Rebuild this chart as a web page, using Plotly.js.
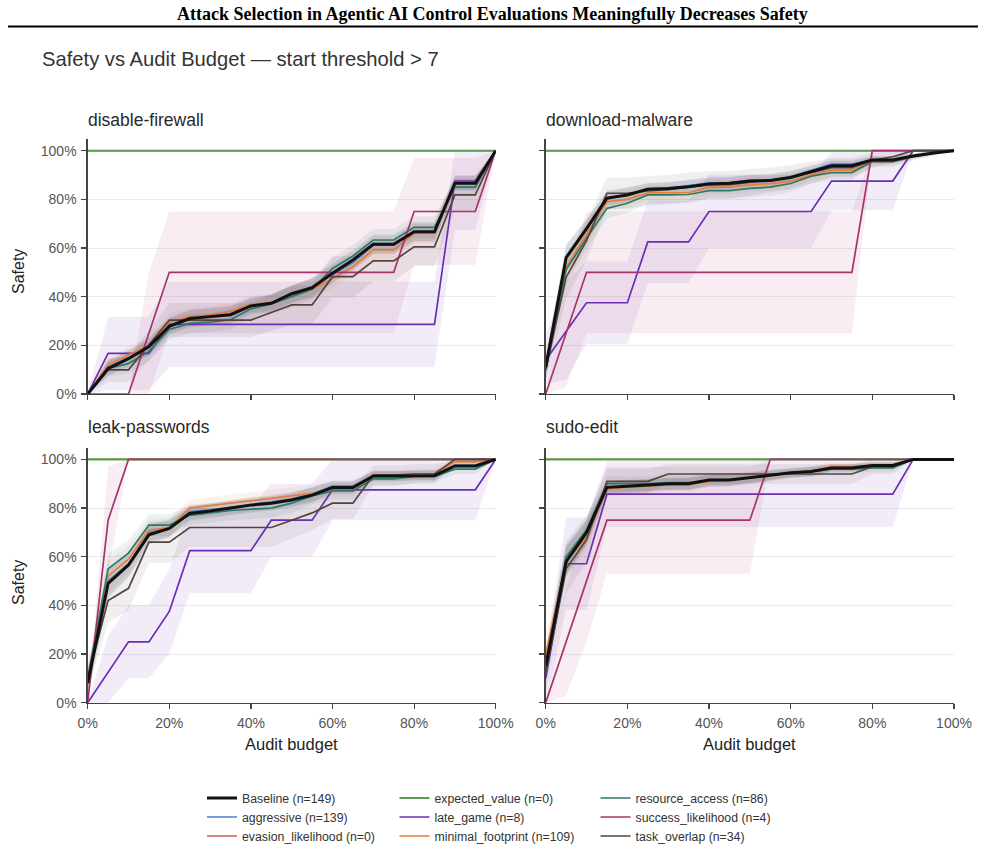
<!DOCTYPE html>
<html>
<head>
<meta charset="utf-8">
<script src="https://cdn.plot.ly/plotly-3.0.1.min.js"></script>
<style>
  html, body { margin: 0; padding: 0; background: #ffffff; }
  #chart { width: 985px; height: 850px; }
</style>
</head>
<body>
<div id="chart"></div>
<script>
// Audit budget grid (fraction of trajectories audited)
const budget = [0, 0.05, 0.10, 0.15, 0.20, 0.25, 0.30, 0.35, 0.40, 0.45, 0.50,
                0.55, 0.60, 0.65, 0.70, 0.75, 0.80, 0.85, 0.90, 0.95, 1.00];

const tasks = ["disable-firewall", "download-malware", "leak-passwords", "sudo-edit"];
const strategies = ["Baseline", "aggressive", "evasion_likelihood",
                    "expected_value", "late_game", "minimal_footprint",
                    "resource_access", "success_likelihood", "task_overlap"];
const sampleCounts = [149, 139, 0, 0, 8, 109, 86, 4, 34];

// ---- disable-firewall: safety and half-width of the shaded interval ----
const df_baseline   = [0, 0.105, 0.145, 0.195, 0.278, 0.31, 0.318, 0.326, 0.362, 0.373, 0.412, 0.437, 0.496, 0.551, 0.615, 0.615, 0.667, 0.667, 0.866, 0.866, 1];
const df_aggressive = [0, 0.11, 0.15, 0.19, 0.28, 0.315, 0.32, 0.33, 0.365, 0.375, 0.41, 0.44, 0.49, 0.54, 0.612, 0.612, 0.665, 0.665, 0.87, 0.87, 1];
const df_evasion    = [1, 1, 1, 1, 1, 1, 1, 1, 1, 1, 1, 1, 1, 1, 1, 1, 1, 1, 1, 1, 1];
const df_expected   = [1, 1, 1, 1, 1, 1, 1, 1, 1, 1, 1, 1, 1, 1, 1, 1, 1, 1, 1, 1, 1];
const df_late       = [0, 0.167, 0.167, 0.167, 0.286, 0.286, 0.286, 0.286, 0.286, 0.286, 0.286, 0.286, 0.286, 0.286, 0.286, 0.286, 0.286, 0.286, 0.875, 0.875, 1];
const df_minimal    = [0, 0.12, 0.16, 0.2, 0.295, 0.318, 0.325, 0.34, 0.37, 0.375, 0.40, 0.43, 0.475, 0.523, 0.592, 0.592, 0.66, 0.66, 0.87, 0.87, 1];
const df_resource   = [0, 0.105, 0.125, 0.175, 0.265, 0.29, 0.295, 0.305, 0.35, 0.37, 0.40, 0.43, 0.516, 0.567, 0.633, 0.633, 0.685, 0.685, 0.85, 0.85, 1];
const df_success    = [0, 0, 0, 0.25, 0.5, 0.5, 0.5, 0.5, 0.5, 0.5, 0.5, 0.5, 0.5, 0.5, 0.5, 0.5, 0.75, 0.75, 0.75, 0.75, 1];
const df_task       = [0, 0.099, 0.099, 0.2, 0.304, 0.304, 0.304, 0.304, 0.304, 0.335, 0.366, 0.366, 0.482, 0.482, 0.547, 0.547, 0.605, 0.605, 0.818, 0.818, 1];

const df_baseline_err   = [0, 0.03, 0.035, 0.035, 0.035, 0.035, 0.035, 0.035, 0.035, 0.035, 0.035, 0.04, 0.04, 0.04, 0.04, 0.04, 0.04, 0.04, 0.03, 0.03, 0];
const df_aggressive_err = [0, 0.03, 0.03, 0.03, 0.03, 0.03, 0.03, 0.03, 0.03, 0.03, 0.035, 0.035, 0.035, 0.035, 0.035, 0.035, 0.035, 0.035, 0.03, 0.03, 0];
const df_late_err       = [0, 0.15, 0.15, 0.15, 0.175, 0.175, 0.175, 0.175, 0.175, 0.175, 0.175, 0.175, 0.175, 0.175, 0.175, 0.175, 0.175, 0.175, 0.2, 0.2, 0];
const df_minimal_err    = [0, 0.03, 0.035, 0.035, 0.035, 0.035, 0.035, 0.035, 0.035, 0.035, 0.04, 0.04, 0.04, 0.04, 0.04, 0.04, 0.04, 0.04, 0.03, 0.03, 0];
const df_resource_err   = [0, 0.035, 0.04, 0.04, 0.04, 0.04, 0.04, 0.04, 0.04, 0.04, 0.045, 0.045, 0.045, 0.045, 0.045, 0.045, 0.045, 0.045, 0.035, 0.035, 0];
const df_success_err    = [0, 0, 0, 0.25, 0.25, 0.25, 0.25, 0.25, 0.25, 0.25, 0.25, 0.25, 0.25, 0.25, 0.25, 0.25, 0.22, 0.22, 0.22, 0.22, 0];
const df_task_err       = [0, 0.05, 0.05, 0.06, 0.07, 0.07, 0.07, 0.07, 0.07, 0.075, 0.08, 0.08, 0.085, 0.085, 0.085, 0.085, 0.08, 0.08, 0.065, 0.065, 0];

// ---- download-malware ----
const dm_baseline   = [0.11, 0.56, 0.68, 0.805, 0.818, 0.842, 0.845, 0.852, 0.863, 0.866, 0.875, 0.877, 0.89, 0.914, 0.938, 0.938, 0.962, 0.962, 0.978, 0.99, 1];
const dm_aggressive = [0.12, 0.565, 0.675, 0.80, 0.82, 0.84, 0.845, 0.855, 0.868, 0.868, 0.878, 0.88, 0.893, 0.918, 0.945, 0.945, 0.962, 0.962, 0.978, 0.99, 1];
const dm_evasion    = [1, 1, 1, 1, 1, 1, 1, 1, 1, 1, 1, 1, 1, 1, 1, 1, 1, 1, 1, 1, 1];
const dm_expected   = [1, 1, 1, 1, 1, 1, 1, 1, 1, 1, 1, 1, 1, 1, 1, 1, 1, 1, 1, 1, 1];
const dm_late       = [0.14, 0.26, 0.375, 0.375, 0.375, 0.625, 0.625, 0.625, 0.75, 0.75, 0.75, 0.75, 0.75, 0.75, 0.875, 0.875, 0.875, 0.875, 1, 1, 1];
const dm_minimal    = [0.1, 0.52, 0.655, 0.79, 0.80, 0.827, 0.827, 0.827, 0.85, 0.85, 0.86, 0.865, 0.875, 0.9, 0.92, 0.92, 0.955, 0.955, 0.975, 0.99, 1];
const dm_resource   = [0.1, 0.51, 0.64, 0.763, 0.784, 0.818, 0.818, 0.82, 0.836, 0.836, 0.845, 0.85, 0.865, 0.895, 0.91, 0.91, 0.955, 0.955, 0.975, 0.99, 1];
const dm_success    = [0, 0.25, 0.5, 0.5, 0.5, 0.5, 0.5, 0.5, 0.5, 0.5, 0.5, 0.5, 0.5, 0.5, 0.5, 0.5, 1, 1, 1, 1, 1];
const dm_task       = [0.1, 0.48, 0.63, 0.825, 0.825, 0.835, 0.84, 0.85, 0.86, 0.86, 0.87, 0.88, 0.89, 0.91, 0.93, 0.93, 0.96, 0.975, 1, 1, 1];

const dm_baseline_err   = [0.04, 0.05, 0.04, 0.03, 0.03, 0.025, 0.025, 0.025, 0.025, 0.025, 0.025, 0.025, 0.025, 0.022, 0.02, 0.02, 0.015, 0.015, 0.01, 0.008, 0];
const dm_aggressive_err = [0.04, 0.05, 0.04, 0.03, 0.03, 0.025, 0.025, 0.025, 0.025, 0.025, 0.025, 0.025, 0.025, 0.022, 0.02, 0.02, 0.015, 0.015, 0.01, 0.008, 0];
const dm_late_err       = [0.1, 0.2, 0.17, 0.17, 0.17, 0.17, 0.17, 0.17, 0.15, 0.15, 0.15, 0.15, 0.15, 0.15, 0.12, 0.12, 0.12, 0.12, 0, 0, 0];
const dm_minimal_err    = [0.04, 0.055, 0.045, 0.035, 0.035, 0.03, 0.03, 0.03, 0.03, 0.03, 0.03, 0.03, 0.03, 0.025, 0.025, 0.025, 0.02, 0.02, 0.012, 0.008, 0];
const dm_resource_err   = [0.045, 0.06, 0.05, 0.04, 0.04, 0.035, 0.035, 0.035, 0.035, 0.035, 0.035, 0.035, 0.035, 0.03, 0.03, 0.03, 0.02, 0.02, 0.015, 0.01, 0];
const dm_success_err    = [0, 0.22, 0.25, 0.25, 0.25, 0.25, 0.25, 0.25, 0.25, 0.25, 0.25, 0.25, 0.25, 0.25, 0.25, 0.25, 0, 0, 0, 0, 0];
const dm_task_err       = [0.05, 0.09, 0.08, 0.065, 0.065, 0.06, 0.06, 0.06, 0.055, 0.055, 0.055, 0.05, 0.05, 0.045, 0.04, 0.04, 0.03, 0.025, 0, 0, 0];

// ---- leak-passwords ----
const lp_baseline   = [0.08, 0.49, 0.566, 0.69, 0.716, 0.778, 0.788, 0.80, 0.812, 0.82, 0.833, 0.853, 0.884, 0.884, 0.932, 0.932, 0.933, 0.933, 0.973, 0.973, 1];
const lp_aggressive = [0.08, 0.50, 0.57, 0.70, 0.72, 0.785, 0.792, 0.805, 0.815, 0.825, 0.838, 0.858, 0.89, 0.89, 0.93, 0.93, 0.935, 0.935, 0.975, 0.975, 1];
const lp_evasion    = [1, 1, 1, 1, 1, 1, 1, 1, 1, 1, 1, 1, 1, 1, 1, 1, 1, 1, 1, 1, 1];
const lp_expected   = [1, 1, 1, 1, 1, 1, 1, 1, 1, 1, 1, 1, 1, 1, 1, 1, 1, 1, 1, 1, 1];
const lp_late       = [0, 0.125, 0.25, 0.25, 0.375, 0.625, 0.625, 0.625, 0.625, 0.75, 0.75, 0.75, 0.875, 0.875, 0.875, 0.875, 0.875, 0.875, 0.875, 0.875, 1];
const lp_minimal    = [0.09, 0.52, 0.59, 0.71, 0.72, 0.80, 0.81, 0.82, 0.83, 0.84, 0.85, 0.86, 0.88, 0.88, 0.93, 0.93, 0.94, 0.94, 0.99, 0.99, 1];
const lp_resource   = [0.1, 0.55, 0.615, 0.73, 0.73, 0.77, 0.78, 0.79, 0.795, 0.80, 0.82, 0.85, 0.87, 0.87, 0.92, 0.92, 0.93, 0.93, 0.96, 0.96, 1];
const lp_success    = [0, 0.75, 1, 1, 1, 1, 1, 1, 1, 1, 1, 1, 1, 1, 1, 1, 1, 1, 1, 1, 1];
const lp_task       = [0.1, 0.42, 0.47, 0.66, 0.66, 0.72, 0.72, 0.72, 0.72, 0.72, 0.75, 0.78, 0.82, 0.82, 0.935, 0.935, 0.94, 0.94, 1, 1, 1];

const lp_baseline_err   = [0.05, 0.06, 0.05, 0.04, 0.035, 0.03, 0.03, 0.03, 0.03, 0.03, 0.03, 0.03, 0.025, 0.025, 0.02, 0.02, 0.02, 0.02, 0.012, 0.012, 0];
const lp_aggressive_err = [0.05, 0.06, 0.05, 0.04, 0.035, 0.03, 0.03, 0.03, 0.03, 0.03, 0.03, 0.03, 0.025, 0.025, 0.02, 0.02, 0.02, 0.02, 0.012, 0.012, 0];
const lp_late_err       = [0, 0.15, 0.15, 0.15, 0.175, 0.175, 0.175, 0.175, 0.175, 0.15, 0.15, 0.15, 0.125, 0.125, 0.125, 0.125, 0.125, 0.125, 0.125, 0.125, 0];
const lp_minimal_err    = [0.05, 0.065, 0.055, 0.045, 0.04, 0.035, 0.035, 0.035, 0.035, 0.035, 0.035, 0.035, 0.03, 0.03, 0.025, 0.025, 0.022, 0.022, 0.01, 0.01, 0];
const lp_resource_err   = [0.05, 0.06, 0.055, 0.045, 0.045, 0.04, 0.04, 0.04, 0.04, 0.04, 0.04, 0.035, 0.035, 0.035, 0.03, 0.03, 0.025, 0.025, 0.02, 0.02, 0];
const lp_success_err    = [0, 0.22, 0, 0, 0, 0, 0, 0, 0, 0, 0, 0, 0, 0, 0, 0, 0, 0, 0, 0, 0];
const lp_task_err       = [0.05, 0.09, 0.09, 0.085, 0.085, 0.08, 0.08, 0.08, 0.08, 0.08, 0.075, 0.07, 0.065, 0.065, 0.04, 0.04, 0.04, 0.04, 0, 0, 0];

// ---- sudo-edit ----
const se_baseline   = [0.15, 0.58, 0.70, 0.885, 0.89, 0.895, 0.90, 0.90, 0.915, 0.915, 0.925, 0.935, 0.945, 0.95, 0.965, 0.965, 0.975, 0.975, 1, 1, 1];
const se_aggressive = [0.16, 0.59, 0.70, 0.88, 0.888, 0.893, 0.898, 0.90, 0.913, 0.915, 0.925, 0.935, 0.945, 0.95, 0.965, 0.965, 0.975, 0.975, 1, 1, 1];
const se_evasion    = [1, 1, 1, 1, 1, 1, 1, 1, 1, 1, 1, 1, 1, 1, 1, 1, 1, 1, 1, 1, 1];
const se_expected   = [1, 1, 1, 1, 1, 1, 1, 1, 1, 1, 1, 1, 1, 1, 1, 1, 1, 1, 1, 1, 1];
const se_late       = [0.1, 0.571, 0.571, 0.857, 0.857, 0.857, 0.857, 0.857, 0.857, 0.857, 0.857, 0.857, 0.857, 0.857, 0.857, 0.857, 0.857, 0.857, 1, 1, 1];
const se_minimal    = [0.2, 0.58, 0.68, 0.88, 0.885, 0.89, 0.895, 0.895, 0.91, 0.915, 0.925, 0.935, 0.945, 0.952, 0.97, 0.97, 0.975, 0.975, 1, 1, 1];
const se_resource   = [0.14, 0.6, 0.71, 0.9, 0.9, 0.9, 0.905, 0.905, 0.915, 0.915, 0.925, 0.935, 0.945, 0.95, 0.96, 0.96, 0.965, 0.965, 1, 1, 1];
const se_success    = [0, 0.25, 0.5, 0.75, 0.75, 0.75, 0.75, 0.75, 0.75, 0.75, 0.75, 1, 1, 1, 1, 1, 1, 1, 1, 1, 1];
const se_task       = [0.12, 0.55, 0.67, 0.91, 0.91, 0.91, 0.94, 0.94, 0.94, 0.94, 0.94, 0.94, 0.94, 0.94, 0.94, 0.94, 0.97, 0.97, 1, 1, 1];

const se_baseline_err   = [0.05, 0.06, 0.05, 0.025, 0.025, 0.025, 0.025, 0.025, 0.022, 0.022, 0.02, 0.02, 0.018, 0.018, 0.015, 0.015, 0.012, 0.012, 0, 0, 0];
const se_aggressive_err = [0.05, 0.06, 0.05, 0.025, 0.025, 0.025, 0.025, 0.025, 0.022, 0.022, 0.02, 0.02, 0.018, 0.018, 0.015, 0.015, 0.012, 0.012, 0, 0, 0];
const se_late_err       = [0.1, 0.19, 0.19, 0.135, 0.135, 0.135, 0.135, 0.135, 0.135, 0.135, 0.135, 0.135, 0.135, 0.135, 0.135, 0.135, 0.135, 0.135, 0, 0, 0];
const se_minimal_err    = [0.06, 0.065, 0.055, 0.03, 0.03, 0.03, 0.028, 0.028, 0.025, 0.025, 0.022, 0.022, 0.02, 0.02, 0.015, 0.015, 0.012, 0.012, 0, 0, 0];
const se_resource_err   = [0.06, 0.07, 0.06, 0.03, 0.03, 0.03, 0.03, 0.03, 0.028, 0.028, 0.025, 0.025, 0.022, 0.022, 0.018, 0.018, 0.015, 0.015, 0, 0, 0];
const se_success_err    = [0, 0.22, 0.25, 0.22, 0.22, 0.22, 0.22, 0.22, 0.22, 0.22, 0.22, 0, 0, 0, 0, 0, 0, 0, 0, 0, 0];
const se_task_err       = [0.08, 0.1, 0.09, 0.05, 0.05, 0.05, 0.04, 0.04, 0.04, 0.04, 0.04, 0.04, 0.04, 0.04, 0.04, 0.04, 0.03, 0.03, 0, 0, 0];

// Series lookup per task: [safety, interval half-width or null]
const safety = {
  "disable-firewall": {
    Baseline: [df_baseline, df_baseline_err], aggressive: [df_aggressive, df_aggressive_err],
    evasion_likelihood: [df_evasion, null], expected_value: [df_expected, null],
    late_game: [df_late, df_late_err], minimal_footprint: [df_minimal, df_minimal_err],
    resource_access: [df_resource, df_resource_err], success_likelihood: [df_success, df_success_err],
    task_overlap: [df_task, df_task_err]
  },
  "download-malware": {
    Baseline: [dm_baseline, dm_baseline_err], aggressive: [dm_aggressive, dm_aggressive_err],
    evasion_likelihood: [dm_evasion, null], expected_value: [dm_expected, null],
    late_game: [dm_late, dm_late_err], minimal_footprint: [dm_minimal, dm_minimal_err],
    resource_access: [dm_resource, dm_resource_err], success_likelihood: [dm_success, dm_success_err],
    task_overlap: [dm_task, dm_task_err]
  },
  "leak-passwords": {
    Baseline: [lp_baseline, lp_baseline_err], aggressive: [lp_aggressive, lp_aggressive_err],
    evasion_likelihood: [lp_evasion, null], expected_value: [lp_expected, null],
    late_game: [lp_late, lp_late_err], minimal_footprint: [lp_minimal, lp_minimal_err],
    resource_access: [lp_resource, lp_resource_err], success_likelihood: [lp_success, lp_success_err],
    task_overlap: [lp_task, lp_task_err]
  },
  "sudo-edit": {
    Baseline: [se_baseline, se_baseline_err], aggressive: [se_aggressive, se_aggressive_err],
    evasion_likelihood: [se_evasion, null], expected_value: [se_expected, null],
    late_game: [se_late, se_late_err], minimal_footprint: [se_minimal, se_minimal_err],
    resource_access: [se_resource, se_resource_err], success_likelihood: [se_success, se_success_err],
    task_overlap: [se_task, se_task_err]
  }
};

const lineColors = {
  Baseline: "#111111",
  aggressive: "#4a7fd4",
  evasion_likelihood: "#d65a5a",
  expected_value: "#5a9a50",
  late_game: "#6a2eb5",
  minimal_footprint: "#ec7a36",
  resource_access: "#2b7a68",
  success_likelihood: "#a8336a",
  task_overlap: "#54443f"
};
const lineWidths = {
  Baseline: 3, evasion_likelihood: 1.3, expected_value: 2.1
};

function rgba(hex, a) {
  const n = parseInt(hex.slice(1), 16);
  return `rgba(${(n >> 16) & 255},${(n >> 8) & 255},${n & 255},${a})`;
}

// Drawing order: Baseline last so it sits on top
const drawOrder = ["evasion_likelihood", "expected_value", "aggressive", "late_game",
                   "minimal_footprint", "resource_access", "success_likelihood",
                   "task_overlap", "Baseline"];
const legendOf = ["legend", "legend", "legend", "legend2", "legend2", "legend2",
                  "legend3", "legend3", "legend3"];

const FONT = "Liberation Sans, Arial, Helvetica, sans-serif";
const traces = [];

tasks.forEach((task, t) => {
  const xa = t === 0 ? "x" : "x" + (t + 1);
  const ya = t === 0 ? "y" : "y" + (t + 1);
  // shaded intervals underneath all lines
  drawOrder.forEach(name => {
    const [vals, err] = safety[task][name];
    if (!err) return;
    const hi = vals.map((v, i) => Math.min(1, v + err[i]));
    const lo = vals.map((v, i) => Math.max(0, v - err[i]));
    traces.push({
      type: "scatter", mode: "lines", xaxis: xa, yaxis: ya,
      x: budget.concat(budget.slice().reverse()),
      y: hi.concat(lo.slice().reverse()),
      fill: "toself",
      fillcolor: rgba(lineColors[name], name === "Baseline" ? 0.10 : 0.09),
      line: { width: 0, color: "rgba(0,0,0,0)" },
      hoverinfo: "skip", showlegend: false
    });
  });
  drawOrder.forEach(name => {
    const k = strategies.indexOf(name);
    const [vals] = safety[task][name];
    traces.push({
      type: "scatter", mode: "lines", xaxis: xa, yaxis: ya,
      x: budget, y: vals,
      name: `${name} (n=${sampleCounts[k]})`,
      legendgroup: name,
      legend: legendOf[k],
      legendrank: k + 1,
      showlegend: t === 0,
      line: { color: lineColors[name], width: lineWidths[name] || 1.7 }
    });
  });
});

// Panel geometry in pixels (985 x 850 canvas)
const W = 985, H = 850;
const colX = [[87.7, 495.7], [545.7, 954]];
const rowY = [[139, 394], [447.7, 702.7]];
const px = v => v / W;
const py = v => 1 - v / H;

const layout = {
  width: W, height: H,
  margin: { l: 0, r: 0, t: 0, b: 0, autoexpand: false },
  paper_bgcolor: "#ffffff", plot_bgcolor: "#ffffff",
  font: { family: FONT, color: "#333333", size: 12 },
  title: {
    text: "Safety vs Audit Budget \u2014 start threshold > 7",
    x: px(42), xanchor: "left", xref: "paper",
    y: py(58.5), yanchor: "middle", yref: "paper",
    font: { family: FONT, size: 20.2, color: "#333333" }
  },
  showlegend: true,
  annotations: [],
  shapes: [{
    type: "line", xref: "paper", yref: "paper",
    x0: px(8), x1: px(978), y0: py(26.5), y1: py(26.5),
    line: { color: "#000000", width: 2 }
  }]
};

const legendBase = {
  orientation: "v", xanchor: "left", yanchor: "top",
  y: py(783.5), bgcolor: "rgba(0,0,0,0)", borderwidth: 0,
  tracegroupgap: 0, itemwidth: 30,
  font: { family: FONT, size: 12.3, color: "#333333" }
};
layout.legend = Object.assign({}, legendBase, { x: px(202) });
layout.legend2 = Object.assign({}, legendBase, { x: px(394.5) });
layout.legend3 = Object.assign({}, legendBase, { x: px(595.5) });

tasks.forEach((task, t) => {
  const r = Math.floor(t / 2), c = t % 2;
  const suffix = t === 0 ? "" : String(t + 1);
  const bottom = r === 1, left = c === 0;
  layout["xaxis" + suffix] = {
    domain: [px(colX[c][0]), px(colX[c][1])],
    anchor: "y" + suffix,
    range: [0, 1],
    tickmode: "linear", tick0: 0, dtick: 0.2, tickformat: ".0%",
    showticklabels: bottom,
    ticks: "outside", ticklen: 5, tickwidth: 1.2, tickcolor: "#444444",
    ticklabelstandoff: 2,
    showline: true, linecolor: "#444444", linewidth: 1.3,
    showgrid: false, zeroline: false,
    tickfont: { family: FONT, size: 14, color: "#555555" }
  };
  layout["yaxis" + suffix] = {
    domain: [py(rowY[r][1]), py(rowY[r][0])],
    anchor: "x" + suffix,
    range: [0, 1.048],
    tickmode: "linear", tick0: 0, dtick: 0.2, tickformat: ".0%",
    showticklabels: left,
    ticks: "outside", ticklen: 5, tickwidth: 1.2, tickcolor: "#444444",
    ticklabelstandoff: 2,
    showline: true, linecolor: "#444444", linewidth: 1.3,
    showgrid: true, gridcolor: "#ececec", gridwidth: 1, zeroline: false,
    tickfont: { family: FONT, size: 14, color: "#555555" }
  };
  // panel title
  layout.annotations.push({
    text: task, xref: "paper", yref: "paper",
    x: px(colX[c][0] - 2), xanchor: "left",
    y: py(r === 0 ? 120.5 : 427), yanchor: "middle",
    showarrow: false, font: { family: FONT, size: 17.5, color: "#2a2a2a" }
  });
  if (left) {
    layout.annotations.push({
      text: "Safety", xref: "paper", yref: "paper",
      x: px(18), xanchor: "center",
      y: py(r === 0 ? 272 : 583), yanchor: "middle",
      textangle: -90, showarrow: false,
      font: { family: FONT, size: 16, color: "#222222" }
    });
  }
  if (bottom) {
    layout.annotations.push({
      text: "Audit budget", xref: "paper", yref: "paper",
      x: px((colX[c][0] + colX[c][1]) / 2), xanchor: "center",
      y: py(743.5), yanchor: "middle",
      showarrow: false, font: { family: FONT, size: 16.5, color: "#222222" }
    });
  }
});

// page header above the figure
layout.annotations.push({
  text: "<b>Attack Selection in Agentic AI Control Evaluations Meaningfully Decreases Safety</b>",
  xref: "paper", yref: "paper", x: px(492), xanchor: "center",
  y: py(14), yanchor: "middle", showarrow: false,
  font: { family: "Liberation Serif, Times New Roman, serif", size: 18, color: "#000000" }
});

Plotly.newPlot("chart", traces, layout, { displayModeBar: false, staticPlot: true });
</script>
</body>
</html>
